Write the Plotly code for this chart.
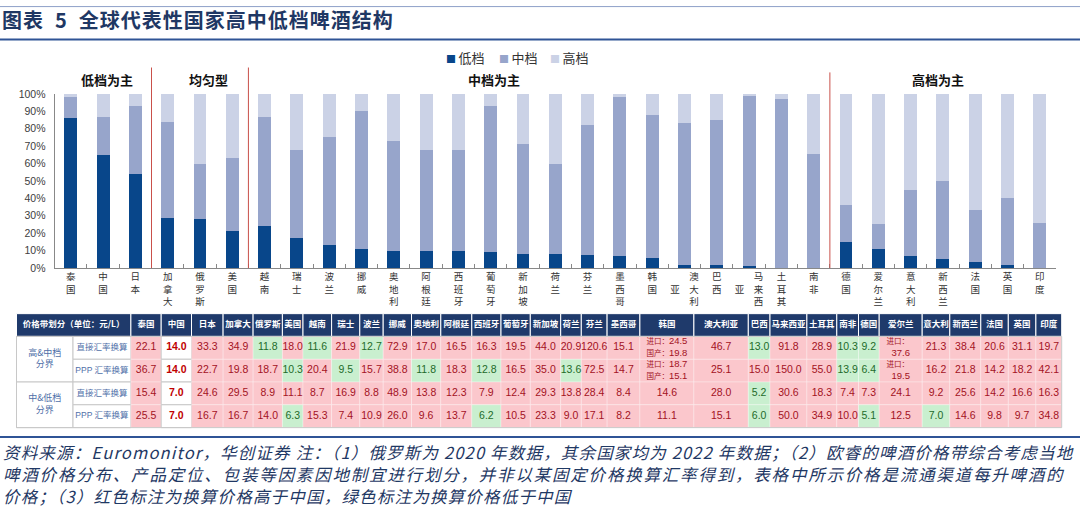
import plotly.graph_objects as go

# ---------------- data ----------------
countries = ["泰国", "中国", "日本", "加拿大", "俄罗斯", "美国", "越南", "瑞士", "波兰", "挪威",
             "奥地利", "阿根廷", "西班牙", "葡萄牙", "新加坡", "荷兰", "芬兰", "墨西哥", "韩国",
             "澳大利亚", "巴西", "马来西亚", "土耳其", "南非", "德国", "爱尔兰", "意大利", "新西兰",
             "法国", "英国", "印度"]
low_share = [86, 65, 54, 29, 28, 21, 24, 17, 13, 11, 10, 10, 10, 9, 8, 8, 7.5, 7, 6, 2, 2, 1, 0, 0,
             15, 11, 7, 5, 3.5, 1.5, 0]
mid_share = [12, 22, 39, 55, 32, 42, 63, 51, 62, 79, 63, 58, 58, 84, 63, 52, 74.5, 91, 82, 81, 83, 98,
             97, 65.5, 21, 14, 38, 45, 30, 39, 26]
high_share = [2, 13, 7, 16, 40, 37, 13, 32, 25, 10, 27, 32, 32, 7, 29, 40, 18, 2, 12, 17, 15, 1, 3,
              34.5, 64, 75, 55, 50, 66.5, 59.5, 74]
series_names = ["低档", "中档", "高档"]
group_names = ["低档为主", "均匀型", "中档为主", "高档为主"]

table_corner = "价格带划分（单位：元/L）"
band_names = ["高&中档<br>分界", "中&低档<br>分界"]
method_names = ["直接汇率换算", "PPP 汇率换算", "直接汇率换算", "PPP 汇率换算"]
# None = cell with import / domestic split (韩国)
hm_direct = [22.1, 14.0, 33.3, 34.9, 11.8, 18.0, 11.6, 21.9, 12.7, 72.9, 17.0, 16.5, 16.3, 19.5, 44.0,
             20.9, 120.6, 15.1, None, 46.7, 13.0, 91.8, 28.9, 10.3, 9.2, 37.6, 21.3, 38.4, 20.6, 31.1, 19.7]
hm_ppp = [36.7, 14.0, 22.7, 19.8, 18.7, 10.3, 20.4, 9.5, 15.7, 38.8, 11.8, 18.3, 12.8, 16.5, 35.0,
          13.6, 72.5, 14.7, None, 25.1, 15.0, 150.0, 55.0, 13.9, 6.4, 19.5, 16.2, 21.8, 14.2, 18.2, 42.1]
ml_direct = [15.4, 7.0, 24.6, 29.5, 8.9, 11.1, 8.7, 16.9, 8.8, 48.9, 13.8, 12.3, 7.9, 12.4, 29.3,
             13.8, 28.4, 8.4, 14.6, 28.0, 5.2, 30.6, 18.3, 7.4, 7.3, 24.1, 9.2, 25.6, 14.2, 16.6, 16.3]
ml_ppp = [25.5, 7.0, 16.7, 16.7, 14.0, 6.3, 15.3, 7.4, 10.9, 26.0, 9.6, 13.7, 6.2, 10.5, 23.3,
          9.0, 17.1, 8.2, 11.1, 15.1, 6.0, 50.0, 34.9, 10.0, 5.1, 12.5, 7.0, 14.6, 9.8, 9.7, 34.8]
korea_import = [24.5, 18.7]
korea_domestic = [19.8, 15.1]
import_only_country = "爱尔兰"
table_rows = [hm_direct, hm_ppp, ml_direct, ml_ppp]

title_text = "图表\u20025\u2002全球代表性国家高中低档啤酒结构"
foot_lines = [
    "资料来源：Euromonitor，华创证券 注：（1）俄罗斯为 2020 年数据，其余国家均为 2022 年数据；（2）欧睿的啤酒价格带综合考虑当地",
    "啤酒价格分布、产品定位、包装等因素因地制宜进行划分，并非以某固定价格换算汇率得到，表格中所示价格是流通渠道每升啤酒的",
    "价格；（3）红色标注为换算价格高于中国，绿色标注为换算价格低于中国",
]

# ---------------- layout constants ----------------
W, H = 1080, 514
def fx(px):
    return px / W
def fy(py):
    return 1 - py / H

FONT_CN = "Noto Sans CJK SC"
FONT_NUM = "Liberation Sans, Noto Sans CJK SC"
NAVY = "#1F3864"
LINE_BLUE = "#2F5496"
BAR_COLORS = ["#08468A", "#97A5CB", "#CBD2E6"]
HEAD_FILL = "#1F3A6B"
RED_FILL, RED_TXT = "#FBC7CC", "#A3121E"
GREEN_FILL, GREEN_TXT = "#C9EFCF", "#1E6B2A"
LABEL_BLUE = "#4F6FA8"
GRID_GRAY = "#C8C8C8"

plot_left, plot_right = 54.6, 1056.0
plot_top, plot_bottom = 90.0, 268.3
group_label_x = [1.11, 4.26, 13.1, 26.86]
group_breaks = [2.5, 5.5, 23.5]
group_break_top = [63, 63, 68]

tab_left = 16.5
label_col_w = [56.5, 57.9]
country_col_w = [30.3, 30.3, 31.6, 30, 29.3, 20.6, 28.6, 28.2, 23.4, 28.3, 29.3, 31, 29.2, 29.3, 30.4,
                 20.6, 25.8, 32.8, 54, 54.4, 21.7, 36.9, 29.9, 21.7, 20.7, 43, 27.6, 31, 27.5, 27.6, 25.8]
row_edges = [315, 338.3, 361.7, 385, 408.3, 431.7]
pad = 1.5
foot_spacing = [1.17, 1.8, 1.2]


def vertical_label(name):
    if len(name) == 4 and name.endswith("亚"):
        a, b, c, d = name
        return f"\u3000\u3000{a}<br>{d}\u3000{b}<br>\u3000\u3000{c}"
    return "<br>".join(name)


fig = go.Figure()

# ---------------- stacked bars ----------------
for name, vals, col in zip(series_names, [low_share, mid_share, high_share], BAR_COLORS):
    fig.add_trace(go.Bar(
        x=countries, y=[v / 100 for v in vals], name=name, width=0.4,
        marker=dict(color=col, line=dict(width=0)), showlegend=False,
        hovertemplate="%{x} " + name + ": %{y:.1%}<extra></extra>",
        xaxis="x", yaxis="y"))

shapes = []
annotations = []

for xb, yt in zip(group_breaks, group_break_top):
    shapes.append(dict(type="line", xref="x", yref="paper", x0=xb, x1=xb,
                       y0=fy(plot_bottom), y1=fy(yt), line=dict(color="#C9504A", width=1)))
for gname, gx in zip(group_names, group_label_x):
    annotations.append(dict(xref="x", yref="paper", x=gx, y=fy(74.8), text=f"<b>{gname}</b>",
                            showarrow=False, xanchor="center", yanchor="middle",
                            font=dict(family=FONT_CN, size=13, color="#111111")))

# legend (drawn as text items)
legend_x = [444, 497, 548]
for name, col, lx in zip(series_names, BAR_COLORS, legend_x):
    annotations.append(dict(xref="paper", yref="paper", x=fx(lx), y=fy(52.4),
                            text=f"<span style='color:{col};font-size:10px'>■</span>\u2009{name}",
                            showarrow=False, xanchor="left", yanchor="middle",
                            font=dict(family=FONT_CN, size=13, color="#333333")))

# ---------------- table ----------------
col_w = label_col_w + country_col_w
edges = [tab_left]
for w in col_w:
    edges.append(edges[-1] + w)
cx = [(edges[i] + edges[i + 1]) / 2 for i in range(len(col_w))]
ry = [(row_edges[i] + row_edges[i + 1]) / 2 for i in range(5)]

def rect(x0, x1, y0, y1, fill, line_col, lw):
    shapes.append(dict(type="rect", xref="x2", yref="y2", x0=x0, x1=x1, y0=y0, y1=y1,
                       fillcolor=fill, line=dict(color=line_col, width=lw), layer="below"))

# header
rect(edges[0], edges[2], row_edges[0], row_edges[1], HEAD_FILL, "white", 1)
for j in range(len(countries)):
    rect(edges[j + 2], edges[j + 3], row_edges[0], row_edges[1], HEAD_FILL, "white", 1)
# band and method label cells
for b in range(2):
    rect(edges[0], edges[1], row_edges[1 + 2 * b], row_edges[3 + 2 * b], "white", GRID_GRAY, 1)
for r in range(4):
    rect(edges[1], edges[2], row_edges[r + 1], row_edges[r + 2], "white", GRID_GRAY, 1)

china_idx = countries.index("中国")
ire_idx = countries.index(import_only_country)

num_x, num_y, num_t, num_c, num_s = [], [], [], [], []
for r, row in enumerate(table_rows):
    china_val = row[china_idx]
    for j, v in enumerate(row):
        x0, x1 = edges[j + 2], edges[j + 3]
        y0, y1 = row_edges[r + 1], row_edges[r + 2]
        cmp_val = korea_import[r] if v is None else v
        size = 10.5
        if j == china_idx:
            tcol = "#C00000"
            rect(x0, x1, y0, y1, "white", GRID_GRAY, 1)
            txt = f"<b>{v:.1f}</b>"
        else:
            if cmp_val <= china_val:
                fill, tcol = GREEN_FILL, GREEN_TXT
            else:
                fill, tcol = RED_FILL, RED_TXT
            rect(x0, x1, y0, y1, fill, "rgba(255,255,255,0.6)", 0.5)
            if v is None:
                size = 9.5
                txt = (f"<span style='font-size:7.5px'>进口：</span>{korea_import[r]:.1f}<br>"
                       f"<span style='font-size:7.5px'>国产：</span>{korea_domestic[r]:.1f}")
            elif j == ire_idx and r < 2:
                size = 9.5
                txt = f"<span style='font-size:7.5px'>进口：</span>\u3000<br>{v:.1f}"
            else:
                txt = f"{v:.1f}"
        num_x.append(cx[j + 2])
        num_y.append(ry[r + 1])
        num_t.append(txt)
        num_c.append(tcol)
        num_s.append(size)

# outer border of table body
shapes.append(dict(type="rect", xref="x2", yref="y2", x0=edges[0], x1=edges[-1],
                   y0=row_edges[1], y1=row_edges[-1], line=dict(color=GRID_GRAY, width=1),
                   fillcolor="rgba(0,0,0,0)", layer="below"))

fig.add_trace(go.Scatter(
    x=num_x, y=num_y, text=num_t, mode="text", textposition="middle center",
    textfont=dict(family=FONT_NUM, size=num_s, color=num_c),
    hoverinfo="skip", showlegend=False, xaxis="x2", yaxis="y2"))

head_x = [(edges[0] + edges[2]) / 2] + cx[2:]
head_t = [f"<b>{table_corner}</b>"] + [f"<b>{c}</b>" for c in countries]
fig.add_trace(go.Scatter(
    x=head_x, y=[ry[0]] * len(head_x), text=head_t, mode="text", textposition="middle center",
    textfont=dict(family=FONT_CN, size=8.5, color="white"),
    hoverinfo="skip", showlegend=False, xaxis="x2", yaxis="y2"))

fig.add_trace(go.Scatter(
    x=[cx[0], cx[0]], y=[row_edges[2], row_edges[4]], text=band_names, mode="text",
    textposition="middle center", textfont=dict(family=FONT_CN, size=9, color=LABEL_BLUE),
    hoverinfo="skip", showlegend=False, xaxis="x2", yaxis="y2"))
fig.add_trace(go.Scatter(
    x=[cx[1]] * 4, y=ry[1:], text=method_names, mode="text",
    textposition="middle center", textfont=dict(family=FONT_NUM, size=8.5, color=LABEL_BLUE),
    hoverinfo="skip", showlegend=False, xaxis="x2", yaxis="y2"))

# ---------------- title / lines / footnote ----------------
annotations.append(dict(xref="paper", yref="paper", x=0, y=fy(14),
                        text=f"<b><span style='letter-spacing:1px'>{title_text}</span></b>",
                        showarrow=False, xanchor="left", yanchor="middle",
                        font=dict(family=FONT_CN, size=20, color=NAVY)))
shapes.append(dict(type="line", xref="paper", yref="paper", x0=0, x1=1, y0=fy(0.6), y1=fy(0.6),
                   line=dict(color="#8EA0C8", width=1)))
shapes.append(dict(type="line", xref="paper", yref="paper", x0=0, x1=1, y0=fy(34.4), y1=fy(34.4),
                   line=dict(color=LINE_BLUE, width=2)))
shapes.append(dict(type="line", xref="paper", yref="paper", x0=0, x1=1, y0=fy(441.3), y1=fy(441.3),
                   line=dict(color=LINE_BLUE, width=2)))
for i, (line, sp) in enumerate(zip(foot_lines, foot_spacing)):
    annotations.append(dict(xref="paper", yref="paper", x=fx(1), y=fy(456.4 + i * 22.9),
                            text=f"<i><span style='letter-spacing:{sp}px'>{line}</span></i>",
                            showarrow=False, xanchor="left", yanchor="middle",
                            font=dict(family=FONT_CN, size=16.5, color=NAVY)))

fig.update_layout(
    width=W, height=H, margin=dict(l=0, r=0, t=0, b=0),
    paper_bgcolor="white", plot_bgcolor="white",
    barmode="stack", bargap=0.6, showlegend=False,
    shapes=shapes, annotations=annotations,
    xaxis=dict(domain=[fx(plot_left), fx(plot_right)], type="category",
               tickvals=countries, ticktext=[vertical_label(c) for c in countries],
               tickson="boundaries", ticks="inside", ticklen=4, tickcolor="#888888",
               showline=True, linecolor="#888888", linewidth=1, showgrid=False,
               tickfont=dict(family=FONT_CN, size=9.5, color="#333333"), tickangle=0,
               fixedrange=True),
    yaxis=dict(domain=[fy(plot_bottom), fy(plot_top)], range=[0, 1], dtick=0.1,
               tickformat=".0%", showline=True, linecolor="#888888", linewidth=1,
               showgrid=False, zeroline=False, ticks="", ticklabelstandoff=6,
               tickfont=dict(family="Liberation Sans", size=10.5, color="#404040"),
               fixedrange=True),
    xaxis2=dict(domain=[fx(edges[0] - pad), fx(edges[-1] + pad)],
                range=[edges[0] - pad, edges[-1] + pad], visible=False, fixedrange=True,
                anchor="y2"),
    yaxis2=dict(domain=[fy(row_edges[-1] + pad), fy(row_edges[0] - pad)],
                range=[row_edges[-1] + pad, row_edges[0] - pad], visible=False, fixedrange=True,
                anchor="x2"),
)

fig.write_html("out.html", config={"displayModeBar": False},
               post_script="document.body.style.margin='0px';document.body.style.overflow='hidden';")
